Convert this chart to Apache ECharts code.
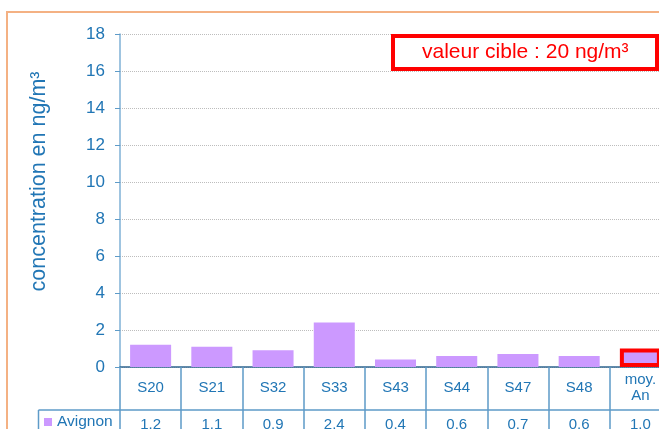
<!DOCTYPE html>
<html>
<head>
<meta charset="utf-8">
<script src="https://cdn.jsdelivr.net/npm/echarts@6/dist/echarts.min.js"></script>
<style>
  html, body { margin: 0; padding: 0; background: #fff; }
  #chart { width: 659px; height: 429px; }
</style>
</head>
<body>
<div id="chart"></div>
<script>
// données
var categories = ['S20', 'S21', 'S32', 'S33', 'S43', 'S44', 'S47', 'S48', 'moy.\nAn'];
var avignon = [1.2, 1.1, 0.9, 2.4, 0.4, 0.6, 0.7, 0.6, 1.0];
var seriesName = 'Avignon';
var yTicks = [0, 2, 4, 6, 8, 10, 12, 14, 16, 18];
var highlightIndex = 8; // moyenne annuelle encadrée en rouge

var blue = '#2176B5';
var font = 'Liberation Sans, Arial, sans-serif';

var chart = echarts.init(document.getElementById('chart'));

var barData = avignon.map(function (v, i) {
  if (i === highlightIndex) {
    return { value: v, itemStyle: { borderColor: '#FF0000', borderWidth: 4 } };
  }
  return v;
});

var option = {
  animation: false,
  backgroundColor: '#fff',
  textStyle: { fontFamily: font },
  title: {
    text: 'valeur cible : 20 ng/m³',
    left: 393,
    top: 36,
    padding: [6, 29],
    borderColor: '#FF0000',
    borderWidth: 4,
    backgroundColor: '#fff',
    textStyle: { color: '#FF0000', fontSize: 21, fontWeight: 'normal', fontFamily: font }
  },
  legend: {
    left: 44,
    top: 414,
    padding: 0,
    itemWidth: 8,
    itemHeight: 8,
    itemGap: 5,
    icon: 'rect',
    textStyle: { color: blue, fontSize: 15.5, fontFamily: font },
    data: [seriesName]
  },
  grid: {
    left: 120,
    right: -12,
    top: 34,
    bottom: 62,
    containLabel: false,
    outerBoundsMode: 'none'
  },
  xAxis: [{
    type: 'category',
    data: categories,
    position: 'bottom',
    axisLine: { show: true, lineStyle: { color: '#2F6690', width: 1.5 } },
    axisTick: { show: true, alignWithLabel: false, length: 43, lineStyle: { color: '#5E9BC8', width: 1.5 } },
    axisLabel: { interval: 0, color: blue, fontSize: 15, fontFamily: font, margin: 21, verticalAlign: 'middle', lineHeight: 16 }
  }, {
    type: 'category',
    data: avignon.map(function (v) { return v.toFixed(1); }),
    position: 'bottom',
    offset: 43,
    axisLine: { show: true, lineStyle: { color: '#5E9BC8', width: 1.5 } },
    axisTick: { show: true, alignWithLabel: false, length: 30, lineStyle: { color: '#5E9BC8', width: 1.5 } },
    axisLabel: { interval: 0, color: blue, fontSize: 15, fontFamily: font, margin: 15, verticalAlign: 'middle' }
  }],
  yAxis: {
    type: 'value',
    min: yTicks[0],
    max: yTicks[yTicks.length - 1],
    interval: 2,
    name: 'concentration en ng/m³',
    nameLocation: 'middle',
    nameRotate: 90,
    nameGap: 70,
    nameTextStyle: { color: blue, fontSize: 21.5, fontFamily: font, padding: [0, 0, 0, 38] },
    axisLine: { show: true, lineStyle: { color: '#7FB0D6', width: 1.5 } },
    axisTick: { show: true, length: 5, lineStyle: { color: '#5E9BC8' } },
    axisLabel: { color: blue, fontSize: 17, fontFamily: font, margin: 15 },
    splitLine: { show: true, lineStyle: { color: '#BDBDBD', type: 'dotted', width: 1 } }
  },
  graphic: [
    // cadre orange
    { type: 'rect', shape: { x: 7, y: 12, width: 700, height: 500 }, style: { fill: 'none', stroke: '#F4B183', lineWidth: 2 }, silent: true },
    // case de la légende dans le tableau
    { type: 'line', shape: { x1: 38.5, y1: 410, x2: 120, y2: 410 }, style: { stroke: '#5E9BC8', lineWidth: 1.5 } },
    { type: 'line', shape: { x1: 38.5, y1: 410, x2: 38.5, y2: 440 }, style: { stroke: '#5E9BC8', lineWidth: 1.5 } }
  ],
  series: [{
    name: seriesName,
    type: 'bar',
    xAxisIndex: 0,
    data: barData,
    barCategoryGap: '33%',
    itemStyle: { color: '#CC99FF' }
  }]
};

chart.setOption(option);
</script>
</body>
</html>
